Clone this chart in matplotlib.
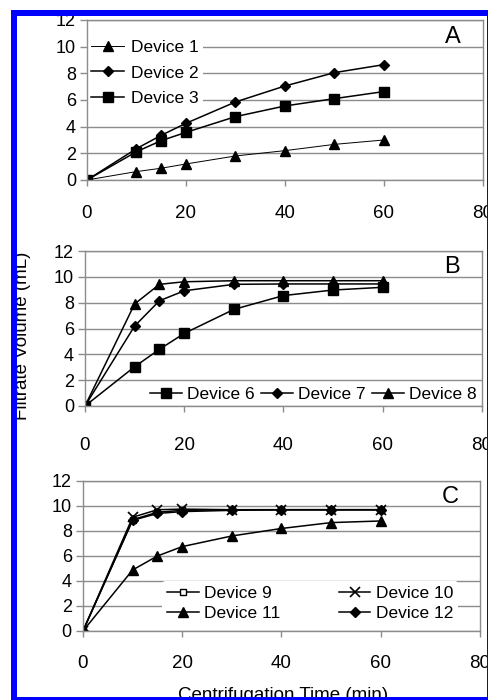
import matplotlib
matplotlib.use('Agg')
from matplotlib import pyplot as plt
from matplotlib.patches import Rectangle

plt.rcParams['font.family'] = ['Liberation Sans', 'DejaVu Sans']
plt.rcParams['font.size'] = 12

time_min = [0, 10, 15, 20, 30, 40, 50, 60]

# panel A
dev1 = [0, 0.63, 0.88, 1.2, 1.8, 2.2, 2.67, 3.0]
dev2 = [0, 2.35, 3.35, 4.25, 5.85, 7.05, 8.05, 8.65]
dev3 = [0, 2.12, 2.95, 3.57, 4.75, 5.55, 6.1, 6.63]

# panel B
dev6 = [0, 3.04, 4.39, 5.62, 7.48, 8.55, 8.98, 9.19]
dev7 = [0, 6.19, 8.15, 8.92, 9.42, 9.45, 9.45, 9.45]
dev8 = [0, 7.9, 9.42, 9.62, 9.7, 9.7, 9.7, 9.7]

# panel C
dev9 = [0, 8.9, 9.5, 9.65, 9.7, 9.7, 9.7, 9.7]
dev10 = [0, 9.1, 9.7, 9.75, 9.7, 9.7, 9.7, 9.7]
dev11 = [0, 4.88, 6.0, 6.75, 7.6, 8.2, 8.67, 8.8]
dev12 = [0, 8.85, 9.4, 9.55, 9.65, 9.7, 9.7, 9.7]

x_ticks = [0, 20, 40, 60, 80]
y_ticks = [0, 2, 4, 6, 8, 10, 12]
grid_col = '#8c8c8c'

fig = plt.figure(figsize=(4.89, 7.0), dpi=100)
fig.patch.set_facecolor('white')

axA = fig.add_axes([0.1779, 0.7429, 0.8098, 0.2286])
axB = fig.add_axes([0.1738, 0.4200, 0.8119, 0.2214])
axC = fig.add_axes([0.1697, 0.0986, 0.8119, 0.2143])


def style_axes(ax, letter, xpad=14):
    ax.set_xlim(0, 80)
    ax.set_ylim(0, 12)
    ax.set_xticks(x_ticks)
    ax.set_yticks(y_ticks)
    ax.yaxis.grid(True, color=grid_col, lw=1.0)
    ax.set_axisbelow(True)
    for s in ax.spines.values():
        s.set_color(grid_col)
        s.set_linewidth(1.0)
    ax.tick_params(axis='y', direction='out', length=5, width=1, color=grid_col,
                   labelsize=13, pad=3)
    ax.tick_params(axis='x', direction='out', length=4, width=1, color=grid_col,
                   labelsize=13.5, pad=xpad)
    ax.text(0.925, 0.965, letter, transform=ax.transAxes, ha='center', va='top',
            fontsize=17)


def white_legend(leg):
    leg.get_frame().set_edgecolor('none')
    leg.get_frame().set_facecolor('white')
    leg.get_frame().set_alpha(1)
    leg.set_zorder(1.5)


lw = 1.1
# A
axA.plot(time_min, dev1, color='black', lw=0.7, marker='^', ms=7, label='Device 1')
axA.plot(time_min, dev2, color='black', lw=lw, marker='D', ms=5, label='Device 2')
axA.plot(time_min, dev3, color='black', lw=lw, marker='s', ms=6.5, label='Device 3')
style_axes(axA, 'A')
white_legend(axA.legend(loc='upper left', bbox_to_anchor=(0.0, 0.905),
                        fontsize=12.5, handlelength=1.9, handletextpad=0.4,
                        labelspacing=0.62, borderpad=0.25, borderaxespad=0.0))

# B
axB.plot(time_min, dev6, color='black', lw=lw, marker='s', ms=6.5, label='Device 6')
axB.plot(time_min, dev7, color='black', lw=lw, marker='D', ms=5, label='Device 7')
axB.plot(time_min, dev8, color='black', lw=lw, marker='^', ms=7, label='Device 8')
style_axes(axB, 'B', xpad=18)
white_legend(axB.legend(loc='lower right', bbox_to_anchor=(0.995, 0.005), ncol=3,
                        fontsize=12.5, handlelength=1.8, handletextpad=0.3,
                        columnspacing=0.4, borderpad=0.2, borderaxespad=0.0))

# C
l9, = axC.plot(time_min, dev9, color='black', lw=lw, marker='s', ms=4, mfc='white',
               label='Device 9')
l10, = axC.plot(time_min, dev10, color='black', lw=lw, marker='x', ms=7, mew=1.2,
                label='Device 10')
l11, = axC.plot(time_min, dev11, color='black', lw=lw, marker='^', ms=7,
                label='Device 11')
l12, = axC.plot(time_min, dev12, color='black', lw=lw, marker='D', ms=5,
                label='Device 12')
style_axes(axC, 'C', xpad=13)
# legend fills column-wise, so order gives rows 9|10 and 11|12
white_legend(axC.legend(handles=[l9, l11, l10, l12], loc='lower right',
                        bbox_to_anchor=(0.945, 0.03), ncol=2,
                        fontsize=12.5, handlelength=1.8, handletextpad=0.3,
                        columnspacing=3.4, labelspacing=0.3, borderpad=0.3,
                        borderaxespad=0.0))

fig.text(0.045, 0.52, 'Filtrate Volume (mL)', rotation=90, ha='center',
         va='center', fontsize=13.5)
fig.text(0.579, 0.018, 'Centrifugation Time (min)', ha='center', va='top',
         fontsize=13.5)

# blue screenshot frame
W, H = 489.0, 700.0
blue = '#0000ff'
for (x0, y0, w, h) in [(11, 10, 478, 5.5), (11, 10, 5.5, 690),
                       (487, 10, 2, 690), (11, 697, 478, 3)]:
    fig.patches.append(Rectangle((x0 / W, 1 - (y0 + h) / H), w / W, h / H,
                                 transform=fig.transFigure, facecolor=blue,
                                 edgecolor='none', zorder=20))

fig.savefig('out.png', dpi=100)
